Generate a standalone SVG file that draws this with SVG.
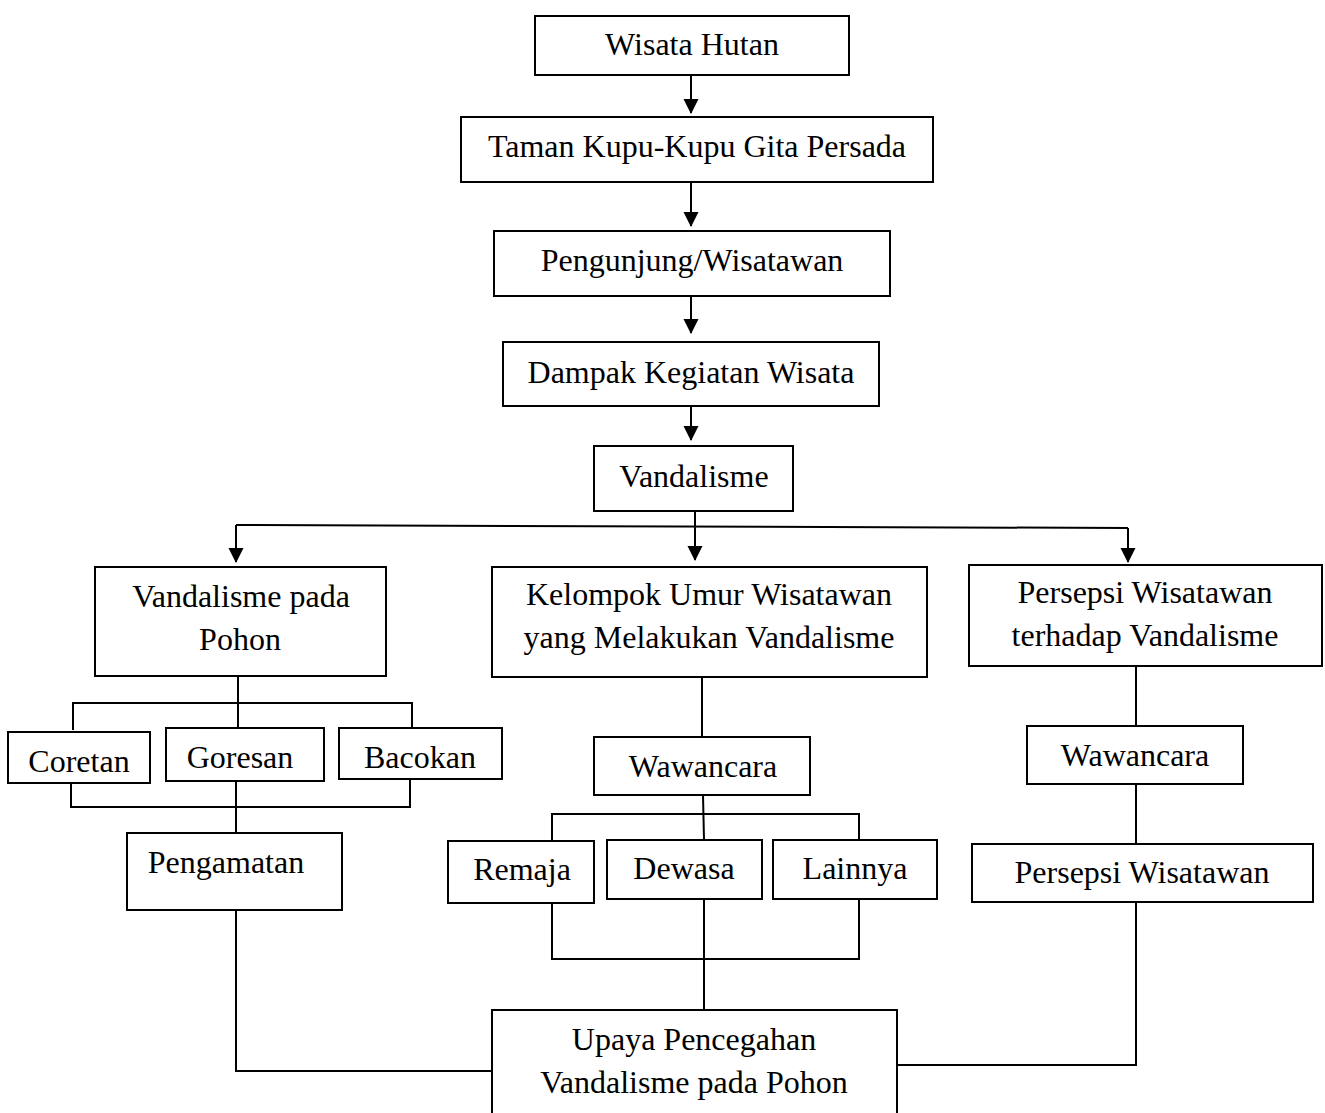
<svg xmlns="http://www.w3.org/2000/svg" width="1325" height="1113" viewBox="0 0 1325 1113">
<style>
.n rect{fill:#fff;stroke:#000;stroke-width:2}
.c line,.c polyline{stroke:#000;stroke-width:2;fill:none}
text{font-family:"Liberation Serif","Times New Roman",serif;font-size:32px;fill:#000;text-anchor:middle}
</style>
<defs>
<marker id="ah" markerUnits="userSpaceOnUse" markerWidth="16" markerHeight="16" refX="14" refY="7.5" orient="auto">
<path d="M0,0 L15,7.5 L0,15 Z" fill="#000"/>
</marker>
</defs>
<g class="c" id="connectors">
<line x1="691" y1="76" x2="691" y2="113" marker-end="url(#ah)"/>
<line x1="691" y1="183" x2="691" y2="226" marker-end="url(#ah)"/>
<line x1="691" y1="296" x2="691" y2="333" marker-end="url(#ah)"/>
<line x1="691" y1="407" x2="691" y2="440" marker-end="url(#ah)"/>
<line x1="695" y1="511" x2="695" y2="560" marker-end="url(#ah)"/>
<line x1="236" y1="525" x2="1128" y2="528"/>
<line x1="236" y1="525" x2="236" y2="562" marker-end="url(#ah)"/>
<line x1="1128" y1="528" x2="1128" y2="562" marker-end="url(#ah)"/>
<line x1="238" y1="676" x2="238" y2="728"/>
<polyline points="73,730 73,703 412,703 412,728"/>
<polyline points="71,783 71,807 410,807 410,779"/>
<line x1="236" y1="781" x2="236" y2="833"/>
<polyline points="236,910 236,1071 492,1071"/>
<line x1="702" y1="677" x2="702" y2="737"/>
<line x1="703" y1="795" x2="704" y2="840"/>
<polyline points="552,841 552,814 859,814 859,840"/>
<polyline points="552,903 552,959 859,959 859,899"/>
<line x1="704" y1="899" x2="704" y2="1010"/>
<line x1="1136" y1="666" x2="1136" y2="726"/>
<line x1="1136" y1="784" x2="1136" y2="844"/>
<polyline points="1136,902 1136,1065 897,1065"/>
</g>
<g class="n" id="n1"><rect x="535" y="16" width="314" height="59"/><text x="692" y="55">Wisata Hutan</text></g>
<g class="n" id="n2"><rect x="461" y="117" width="472" height="65"/><text x="697" y="157">Taman Kupu-Kupu Gita Persada</text></g>
<g class="n" id="n3"><rect x="494" y="231" width="396" height="65"/><text x="692" y="271">Pengunjung/Wisatawan</text></g>
<g class="n" id="n4"><rect x="503" y="342" width="376" height="64"/><text x="691" y="383">Dampak Kegiatan Wisata</text></g>
<g class="n" id="n5"><rect x="594" y="446" width="199" height="65"/><text x="694" y="487">Vandalisme</text></g>
<g class="n" id="n6"><rect x="95" y="567" width="291" height="109"/><text x="241" y="607">Vandalisme pada</text><text x="240" y="650">Pohon</text></g>
<g class="n" id="n7"><rect x="492" y="567" width="435" height="110"/><text x="709" y="605">Kelompok Umur Wisatawan</text><text x="709" y="648">yang Melakukan Vandalisme</text></g>
<g class="n" id="n8"><rect x="969" y="565" width="353" height="101"/><text x="1145" y="603">Persepsi Wisatawan</text><text x="1145" y="646">terhadap Vandalisme</text></g>
<g class="n" id="n9"><rect x="8" y="732" width="142" height="51"/><text x="79" y="772">Coretan</text></g>
<g class="n" id="n10"><rect x="166" y="728" width="158" height="53"/><text x="240" y="768">Goresan</text></g>
<g class="n" id="n11"><rect x="339" y="728" width="163" height="51"/><text x="420" y="768">Bacokan</text></g>
<g class="n" id="n12"><rect x="127" y="833" width="215" height="77"/><text x="226" y="873">Pengamatan</text></g>
<g class="n" id="n13"><rect x="594" y="737" width="216" height="58"/><text x="703" y="777">Wawancara</text></g>
<g class="n" id="n14"><rect x="448" y="841" width="146" height="62"/><text x="522" y="880">Remaja</text></g>
<g class="n" id="n15"><rect x="607" y="840" width="155" height="59"/><text x="684" y="879">Dewasa</text></g>
<g class="n" id="n16"><rect x="773" y="840" width="164" height="59"/><text x="855" y="879">Lainnya</text></g>
<g class="n" id="n17"><rect x="1027" y="726" width="216" height="58"/><text x="1135" y="766">Wawancara</text></g>
<g class="n" id="n18"><rect x="972" y="844" width="341" height="58"/><text x="1142" y="883">Persepsi Wisatawan</text></g>
<g class="n" id="n19"><rect x="492" y="1010" width="405" height="110"/><text x="694" y="1050">Upaya Pencegahan</text><text x="694" y="1093">Vandalisme pada Pohon</text></g>
</svg>
